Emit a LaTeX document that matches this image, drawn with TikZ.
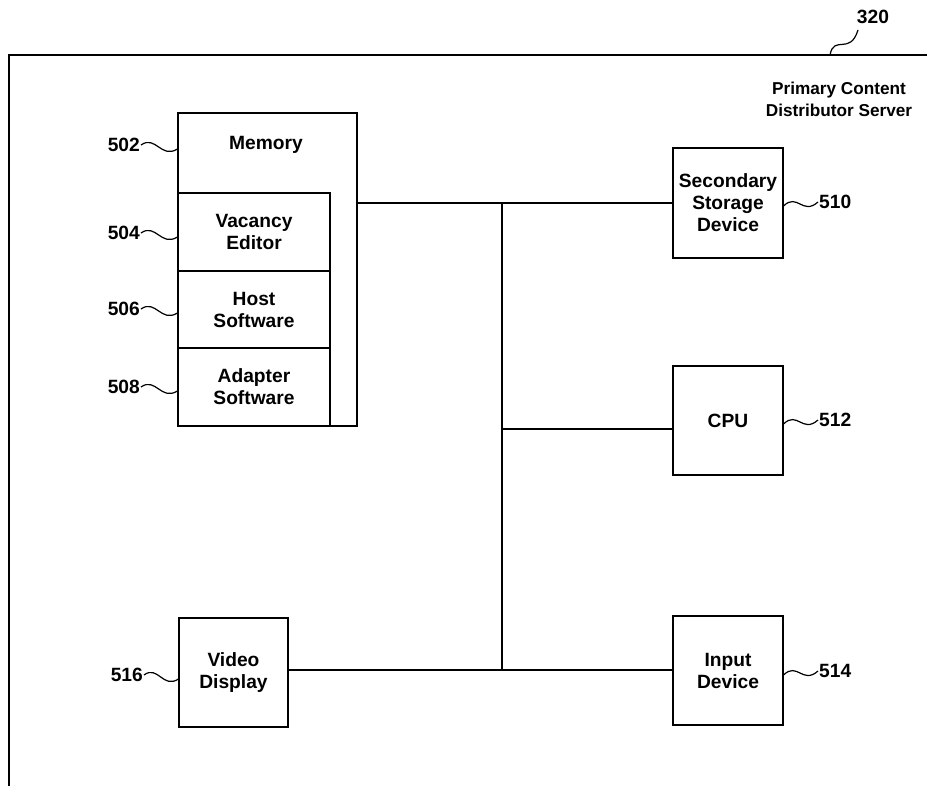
\documentclass[tikz,border=0pt]{standalone}
\usepackage{fontspec}
\setmainfont{Liberation Sans}
\usetikzlibrary{calc}
\begin{document}
\begin{tikzpicture}[x=1pt,y=-1pt,
  every node/.style={font=\fontsize{19.2}{22}\selectfont\bfseries},
  box/.style={draw,line width=1.1pt,inner sep=0pt,align=center},
  wire/.style={line width=1.1pt},
  lbl/.style={inner sep=1pt},
  lead/.style={line width=1.2pt},
  squig/.style={to path={.. controls ($(\tikztostart)!0.4!(\tikztotarget)+(0,-12)$) and ($(\tikztostart)!0.55!(\tikztotarget)+(0,12)$) .. (\tikztotarget)}}]
\useasboundingbox (0,0) rectangle (927,787);
% frame
\coordinate (ftl) at (9,55);
\coordinate (ftr) at (927,55);
\coordinate (fbl) at (9,786);
\draw[wire] (ftr) -- (ftl) -- (fbl);
\node[align=center,font=\fontsize{17.2}{22}\selectfont\bfseries] (title) at (839,99) {Primary Content\\Distributor Server};
\node[lbl] (l320) at (873,17) {320};
\coordinate (s320a) at (830,55);
\coordinate (s320b) at (858,30);
\draw[lead] (s320a) .. controls (834,34) and (850,56) .. (s320b);
% memory
\node[box,minimum width=179pt,minimum height=313pt] (mem) at (267.5,269.5) {};
\node (memtxt) at (266,145) {Memory};
\node[box,minimum width=152pt,minimum height=78pt] (vac) at (254,232) {Vacancy\\Editor};
\node[box,minimum width=152pt,minimum height=77pt] (host) at (254,309.5) {Host\\Software};
\node[box,minimum width=152pt,minimum height=78pt] (adp) at (254,387) {Adapter\\Software};
% right boxes
\node[box,minimum width=110pt,minimum height=110pt] (ssd) at (728,203) {Secondary\\Storage\\Device};
\node[box,minimum width=110pt,minimum height=109pt] (cpu) at (728,420.5) {CPU};
\node[box,minimum width=110pt,minimum height=109pt] (inp) at (728,670.5) {Input\\Device};
\node[box,minimum width=109pt,minimum height=109pt] (vid) at (233.5,672.5) {Video\\Display};
% bus
\coordinate (bt) at (502,203);
\coordinate (bc) at (502,429);
\coordinate (bb) at (502,670);
\draw[wire] (bt -| mem.east) -- (bt) -- (bt -| ssd.west);
\draw[wire] (bt) -- (bb);
\draw[wire] (bc) -- (bc -| cpu.west);
\draw[wire] (bb -| vid.east) -- (bb) -- (bb -| inp.west);
% labels
\node[lbl,anchor=east] (l502) at (141,145) {502};
\node[lbl,anchor=east] (l504) at (141,233) {504};
\node[lbl,anchor=east] (l506) at (141,309) {506};
\node[lbl,anchor=east] (l508) at (141,387) {508};
\node[lbl,anchor=east] (l516) at (144,675) {516};
\node[lbl,anchor=west] (l510) at (818,202) {510};
\node[lbl,anchor=west] (l512) at (818,420) {512};
\node[lbl,anchor=west] (l514) at (818,671) {514};
\draw[lead] (l502.east) to[squig] ($(l502.east -| mem.west)+(0,4)$);
\draw[lead] (l504.east) to[squig] ($(l504.east -| vac.west)+(0,4)$);
\draw[lead] (l506.east) to[squig] ($(l506.east -| host.west)+(0,4)$);
\draw[lead] (l508.east) to[squig] ($(l508.east -| adp.west)+(0,4)$);
\draw[lead] (l516.east) to[squig] ($(l516.east -| vid.west)+(0,4)$);
\draw[lead] ($(l510.west -| ssd.east)+(0,4)$) to[squig] (l510.west);
\draw[lead] ($(l512.west -| cpu.east)+(0,4)$) to[squig] (l512.west);
\draw[lead] ($(l514.west -| inp.east)+(0,4)$) to[squig] (l514.west);
\end{tikzpicture}
\end{document}
